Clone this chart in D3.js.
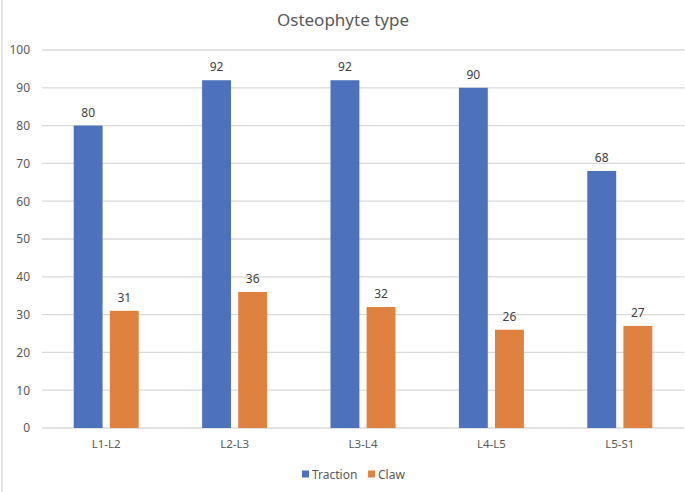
<!DOCTYPE html>
<html>
<head>
<meta charset="utf-8">
<script src="https://cdn.jsdelivr.net/npm/d3@7"></script>
<style>
  body { margin: 0; background: #fff; }
  svg { display: block; }
</style>
</head>
<body>
<svg id="chart" width="685" height="492"></svg>
<script>
// data
const categories = ["L1-L2", "L2-L3", "L3-L4", "L4-L5", "L5-S1"];
const seriesNames = ["Traction", "Claw"];
const traction = [80, 92, 92, 90, 68];
const claw = [31, 36, 32, 26, 27];
const yTicks = [0, 10, 20, 30, 40, 50, 60, 70, 80, 90, 100];

const colours = ["#4e71be", "#e0823f"];
const font_family = "'Noto Sans', 'Open Sans', sans-serif";
const text_color = "#595959";

const svg = d3.select("#chart");
const width = 685, height = 492;
const margin = { top: 50, right: 1, bottom: 64, left: 42 };
const chartWidth = width - margin.left - margin.right;
const chartHeight = height - margin.top - margin.bottom;

// light frame at the left edge
svg.append("line")
    .attr("x1", 2).attr("x2", 2)
    .attr("y1", 0).attr("y2", height)
    .attr("stroke", "#e6e6e6")
    .attr("stroke-width", 2);

// Title
svg.append("text")
    .text("Osteophyte type")
    .attr("x", 343)
    .attr("y", 26)
    .attr("text-anchor", "middle")
    .attr("fill", text_color)
    .attr("font-family", font_family)
    .attr("font-size", 17);

const g = svg.append("g")
    .attr("transform", `translate(${margin.left},${margin.top})`);

// Scales
const x = d3.scaleBand()
    .domain(categories)
    .range([0, chartWidth]);

const x_inner = d3.scaleBand()
    .domain(seriesNames)
    .range([x.bandwidth() / 2 - 32.5, x.bandwidth() / 2 + 32.5])
    .paddingInner(0.2);

const y = d3.scaleLinear()
    .domain([0, 100])
    .range([chartHeight, 0]);

// Gridlines
g.append("g")
    .selectAll("line")
    .data(yTicks)
    .enter()
    .append("line")
    .attr("x1", 0)
    .attr("x2", chartWidth)
    .attr("y1", d => y(d))
    .attr("y2", d => y(d))
    .attr("stroke", "#d9d9d9")
    .attr("stroke-width", 1.3);

// y axis (labels only)
const yAxis = g.append("g")
    .call(d3.axisLeft(y).tickValues(yTicks).tickSize(0).tickPadding(12));
yAxis.select(".domain").remove();
yAxis.selectAll("text")
    .style("font-size", "12px")
    .style("font-family", font_family)
    .style("fill", text_color);

// x axis (labels only)
const xAxis = g.append("g")
    .attr("transform", `translate(0,${chartHeight})`)
    .call(d3.axisBottom(x).tickSize(0).tickPadding(12));
xAxis.select(".domain").remove();
xAxis.selectAll("text")
    .style("font-size", "11.5px")
    .style("font-family", font_family)
    .style("fill", text_color);

// Bars
const rows = categories.map((c, i) => ({
    category: c,
    values: [
        { series: "Traction", value: traction[i] },
        { series: "Claw", value: claw[i] }
    ]
}));

const groups = g.selectAll(".cat")
    .data(rows)
    .enter()
    .append("g")
    .attr("class", "cat")
    .attr("transform", d => `translate(${x(d.category)},0)`);

groups.selectAll("rect")
    .data(d => d.values)
    .enter()
    .append("rect")
    .attr("x", d => x_inner(d.series))
    .attr("width", x_inner.bandwidth())
    .attr("y", d => y(d.value))
    .attr("height", d => chartHeight - y(d.value))
    .attr("fill", d => colours[seriesNames.indexOf(d.series)]);

// Data labels
groups.selectAll(".val")
    .data(d => d.values)
    .enter()
    .append("text")
    .attr("class", "val")
    .text(d => d.value)
    .attr("x", d => x_inner(d.series) + x_inner.bandwidth() / 2)
    .attr("y", d => y(d.value) - 9)
    .attr("text-anchor", "middle")
    .attr("fill", "#404040")
    .attr("font-family", font_family)
    .attr("font-size", 12);

// Legend
const legend = svg.append("g")
    .attr("transform", "translate(302,474)");
const legendX = [0, 66];
seriesNames.forEach((name, i) => {
    const item = legend.append("g")
        .attr("transform", `translate(${legendX[i]},0)`);
    item.append("rect")
        .attr("x", 0)
        .attr("y", -3.5)
        .attr("width", 7)
        .attr("height", 7)
        .attr("fill", colours[i]);
    item.append("text")
        .text(name)
        .attr("x", 10)
        .attr("y", 4.5)
        .attr("fill", text_color)
        .attr("font-family", font_family)
        .attr("font-size", 12);
});
</script>
</body>
</html>
